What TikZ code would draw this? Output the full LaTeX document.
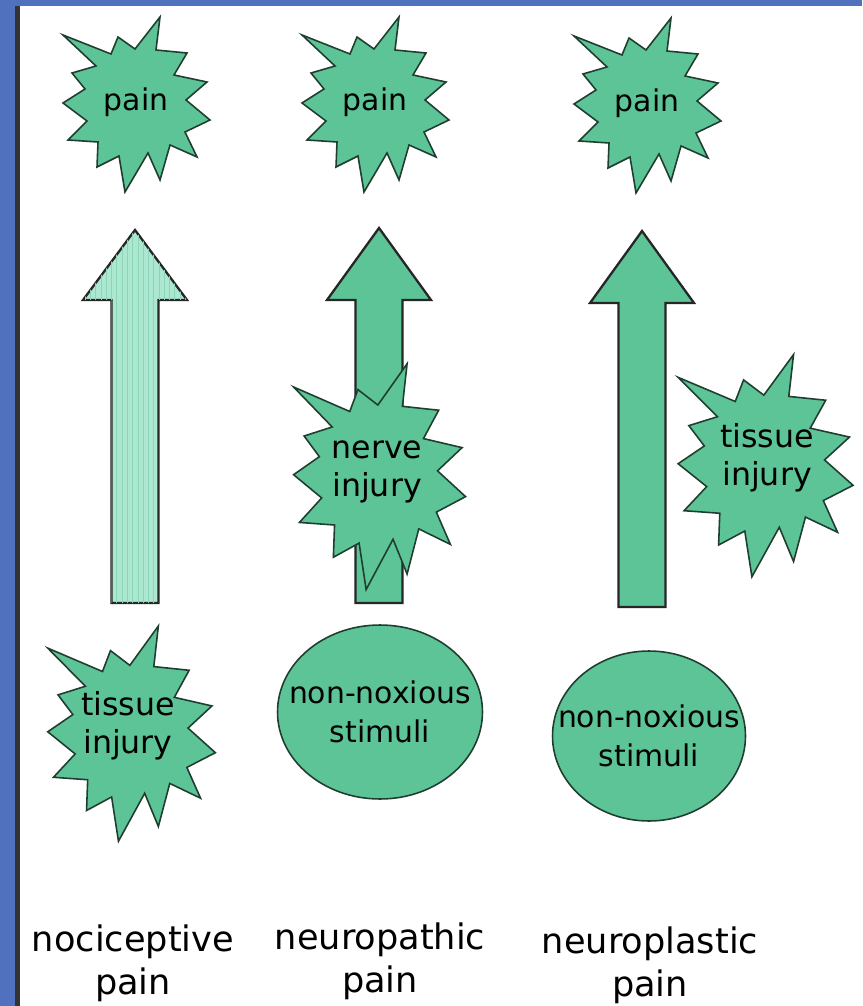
\documentclass[tikz,border=0pt]{standalone}
\usepackage{fontspec}
\setmainfont{DejaVu Sans}
\usetikzlibrary{patterns,shapes.geometric}
\definecolor{colorMint}{RGB}{92,196,150}
\definecolor{colorMintLight}{RGB}{172,231,209}
\definecolor{colorFrame}{RGB}{79,113,190}
\definecolor{colorEdge}{RGB}{32,62,48}

% outline of one explosion, in pixels round its centre
\newcommand{\burstpath}{(24,-87) -- (20,-54) -- (51,-51) -- (38,-29) -- (71,-22) -- (50,-4) -- (74,16) -- (49,28) -- (61,53) -- (34,41) -- (24,76) -- (12,49) -- (-11,88) -- (-17,52) -- (-39,63) -- (-38,38) -- (-68,36) -- (-49,17) -- (-73,-1) -- (-51,-15) -- (-64,-31) -- (-40,-38) -- (-73,-69) -- (-25,-50) -- (-18,-67) -- (-1,-55) -- cycle}
% block arrow: style, centre x, tip y, head y, foot y
\newcommand{\blockarrow}[5]{\draw[#1] (#2,#3) -- (#2+52,#4) -- (#2+23.5,#4) -- (#2+23.5,#5) -- (#2-23.5,#5) -- (#2-23.5,#4) -- (#2-52,#4) -- cycle;}

\begin{document}
\begin{tikzpicture}[x=0.02cm,y=-0.02cm,
  burst/.style={draw=colorEdge,fill=colorMint,line width=0.9pt,line join=miter},
  blockarr/.style={draw=black!85,fill=colorMint,line width=1.3pt},
  hatcharr/.style={blockarr,fill=colorMintLight,postaction={pattern=vertical lines,pattern color=colorMint!70}},
  stimulus/.style={ellipse,draw=colorEdge,fill=colorMint,line width=0.9pt,inner sep=0pt},
  lbl/.style={align=center,inner sep=0pt,font=\fontsize{17}{22}\selectfont},
  caption/.style={align=center,inner sep=0pt,font=\fontsize{20}{24.5}\selectfont}]
  \useasboundingbox (0,0) rectangle (862,1006);
  \fill[white] (0,0) rectangle (862,1006);
  % frame
  \fill[colorFrame] (0,0) rectangle (862,6);
  \fill[colorFrame] (0,0) rectangle (15,1006);
  \fill[black!80] (15,6) rectangle (20,1006);

  % pain bursts
  \draw[burst,shift={(136,104)}] \burstpath;
  \draw[burst,shift={(375,104)}] \burstpath;
  \draw[burst,shift={(647,105)}] \burstpath;
  \node[lbl] (pain1) at (136,102) {pain};
  \node[lbl] (pain2) at (375,102) {pain};
  \node[lbl] (pain3) at (647,103) {pain};

  % arrows
  \blockarrow{hatcharr}{135}{230}{300}{603}
  \blockarrow{blockarr}{379}{228}{300}{603}
  \blockarrow{blockarr}{642}{231}{303}{607}

  % injuries
  \draw[burst,shift={(131,733)},xscale=1.14,yscale=1.23] \burstpath;
  \draw[burst,shift={(379,476)},xscale=1.17,yscale=1.29] \burstpath;
  \draw[burst,shift={(765,465)},xscale=1.19,yscale=1.27] \burstpath;
  \node[lbl,font=\fontsize{18}{21.5}\selectfont] (tissue1) at (128,726) {tissue\\injury};
  \node[lbl,font=\fontsize{18}{21.5}\selectfont] (nerve2) at (377,472) {nerve\\injury};
  \node[lbl,font=\fontsize{18}{21.5}\selectfont] (tissue3) at (767,458) {tissue\\injury};

  % stimuli
  \node[stimulus,minimum width=4.1cm,minimum height=3.48cm] (stim2) at (380,712) {};
  \node[stimulus,minimum width=3.86cm,minimum height=3.4cm] (stim3) at (649,736) {};
  \node[lbl] (stim2txt) at (stim2) {non-noxious\\stimuli};
  \node[lbl] (stim3txt) at (stim3) {non-noxious\\stimuli};

  % captions
  \node[caption] (noci) at (133,963) {nociceptive\\pain};
  \node[caption] (neuro) at (380,961) {neuropathic\\pain};
  \node[caption] (plast) at (650,965) {neuroplastic\\pain};
\end{tikzpicture}
\end{document}
